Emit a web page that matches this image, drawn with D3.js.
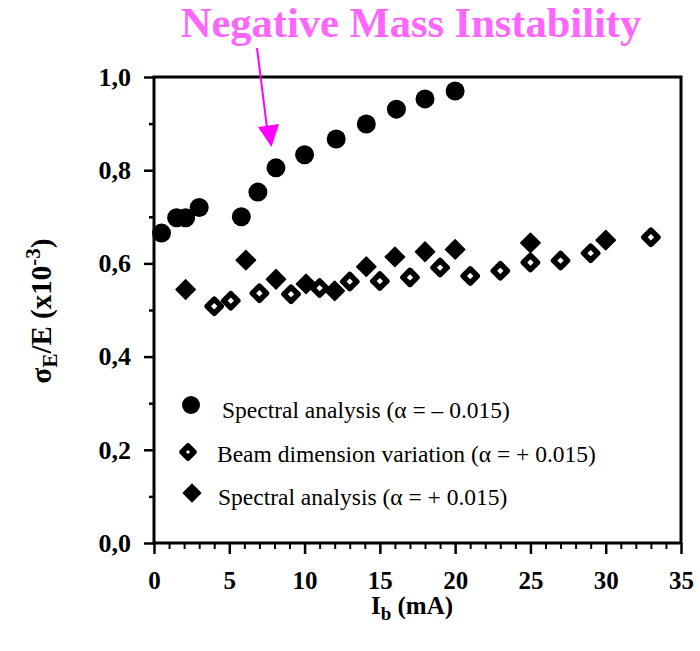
<!DOCTYPE html>
<html><head><meta charset="utf-8">
<script src="https://cdn.jsdelivr.net/npm/d3@7"></script>
<style>body{margin:0;background:#fff}svg{display:block}</style>
</head><body>
<svg id="c" width="700" height="651"></svg>
<script>
// Data
const spectralNegX = [0.5, 1.5, 2.1, 3, 5.8, 6.9, 8.1, 10, 12.1, 14.1, 16.1, 18, 20];
const spectralNegY = [0.665, 0.698, 0.698, 0.720, 0.700, 0.753, 0.805, 0.833, 0.867, 0.899, 0.931, 0.953, 0.970];
const beamX = [4, 5.1, 7, 9.1, 11, 13, 15, 17, 19, 21, 23, 25, 27, 29, 33];
const beamY = [0.508, 0.520, 0.536, 0.534, 0.547, 0.561, 0.562, 0.570, 0.591, 0.573, 0.584, 0.602, 0.606, 0.622, 0.656];
const spectralPosX = [2.1, 6.1, 8.1, 10.1, 12, 14.1, 16, 18, 20, 25, 30];
const spectralPosY = [0.544, 0.607, 0.566, 0.556, 0.541, 0.593, 0.614, 0.625, 0.630, 0.644, 0.650];
const xTicks = [0, 5, 10, 15, 20, 25, 30, 35];
const yTicks = [0, 0.2, 0.4, 0.6, 0.8, 1.0];
const legendLabels = ["Spectral analysis (\u03b1 = \u2013 0.015)", "Beam dimension variation (\u03b1 = + 0.015)", "Spectral analysis (\u03b1 = + 0.015)"];
const title = "Negative Mass Instability";

const svg = d3.select("#c");
const L = 154, R = 681, T = 77, B = 543;
const x = d3.scaleLinear().domain([0, 35]).range([L, R]);
const y = d3.scaleLinear().domain([0, 1]).range([B, T]);
const serif = "'Liberation Serif', 'Times New Roman', 'DejaVu Serif', serif";

// frame
svg.append("rect").attr("x", L).attr("y", T).attr("width", R - L).attr("height", B - T)
  .attr("fill", "none").attr("stroke", "#000").attr("stroke-width", 3);

// y axis minor
svg.append("g").attr("transform", `translate(${L},0)`)
  .call(d3.axisLeft(y).tickValues(d3.range(0.1, 1.0, 0.2)).tickSize(5).tickFormat(""))
  .call(g => g.select(".domain").remove())
  .call(g => g.selectAll("line").attr("stroke-width", 2.5));
// y axis major
svg.append("g").attr("transform", `translate(${L},0)`)
  .call(d3.axisLeft(y).tickValues(yTicks).tickSize(10).tickPadding(13).tickFormat(d => d3.format(".1f")(d).replace(".", ",")))
  .call(g => g.select(".domain").remove())
  .call(g => g.selectAll("line").attr("stroke-width", 2.5))
  .call(g => g.selectAll("text").attr("font-family", serif).attr("font-weight", "bold").attr("font-size", 26).attr("fill", "#000"));

// x axis minor
svg.append("g").attr("transform", `translate(0,${B})`)
  .call(d3.axisBottom(x).tickValues(d3.range(0, 36, 1).filter(v => v % 5 !== 0)).tickSize(6).tickFormat(""))
  .call(g => g.select(".domain").remove())
  .call(g => g.selectAll("line").attr("stroke-width", 2));
// x axis major
svg.append("g").attr("transform", `translate(0,${B})`)
  .call(d3.axisBottom(x).tickValues(xTicks).tickSize(11).tickPadding(17))
  .call(g => g.select(".domain").remove())
  .call(g => g.selectAll("line").attr("stroke-width", 2.5))
  .call(g => g.selectAll("text").attr("font-family", serif).attr("font-weight", "bold").attr("font-size", 25).attr("fill", "#000"));

// axis labels
const xl = svg.append("text").attr("x", 412).attr("y", 614).attr("text-anchor", "middle")
  .attr("font-family", serif).attr("font-weight", "bold").attr("font-size", 25);
xl.append("tspan").text("I");
xl.append("tspan").attr("dy", 6).attr("font-size", 19).text("b");
xl.append("tspan").attr("dy", -6).text(" (mA)");

const yl = svg.append("text").attr("transform", "translate(51,311) rotate(-90)").attr("text-anchor", "middle")
  .attr("font-family", serif).attr("font-weight", "bold").attr("font-size", 29);
yl.append("tspan").text("\u03c3");
yl.append("tspan").attr("dy", 6).attr("font-size", 21).text("E");
yl.append("tspan").attr("dy", -6).text("/E (x10");
yl.append("tspan").attr("dy", -11).attr("font-size", 21).text("-3");
yl.append("tspan").attr("dy", 11).text(")");

// markers
const filledDiamond = d3.symbol().type(d3.symbolSquare).size(185);
const openDiamond = d3.symbol().type(d3.symbolSquare).size(100);

svg.append("g").selectAll("path").data(beamX.map((v, i) => [v, beamY[i]])).join("path")
  .attr("d", openDiamond).attr("transform", d => `translate(${x(d[0])},${y(d[1])}) rotate(45)`)
  .attr("fill", "#fff").attr("stroke", "#000").attr("stroke-width", 5.5).attr("stroke-linejoin", "round");

svg.append("g").selectAll("path").data(spectralPosX.map((v, i) => [v, spectralPosY[i]])).join("path")
  .attr("d", filledDiamond).attr("transform", d => `translate(${x(d[0])},${y(d[1])}) rotate(45)`)
  .attr("fill", "#000").attr("stroke", "#000").attr("stroke-width", 1.5).attr("stroke-linejoin", "round");

svg.append("g").selectAll("circle").data(spectralNegX.map((v, i) => [v, spectralNegY[i]])).join("circle")
  .attr("cx", d => x(d[0])).attr("cy", d => y(d[1])).attr("r", 9.5).attr("fill", "#000");

// legend
const lg = svg.append("g");
const lgMY = [405, 452, 493];
lg.append("circle").attr("cx", 191).attr("cy", lgMY[0]).attr("r", 9).attr("fill", "#000");
lg.append("path").attr("d", d3.symbol().type(d3.symbolSquare).size(72)).attr("transform", `translate(188,${lgMY[1]}) rotate(45)`)
  .attr("fill", "#fff").attr("stroke", "#000").attr("stroke-width", 5.5).attr("stroke-linejoin", "round");
lg.append("path").attr("d", d3.symbol().type(d3.symbolSquare).size(150)).attr("transform", `translate(192,${lgMY[2]}) rotate(45)`)
  .attr("fill", "#000").attr("stroke", "#000").attr("stroke-width", 1.5).attr("stroke-linejoin", "round");
const lgX = [222, 217, 218];
const lgTY = [418, 462, 505];
lg.selectAll("text").data(legendLabels).join("text")
  .attr("x", (d, i) => lgX[i]).attr("y", (d, i) => lgTY[i])
  .attr("font-family", serif).attr("font-size", 23.5).attr("fill", "#000").text(d => d);

// title and arrow
svg.append("text").attr("x", 411).attr("y", 37).attr("text-anchor", "middle")
  .attr("font-family", serif).attr("font-weight", "bold").attr("font-size", 42.5)
  .attr("fill", "#ff66ff").text(title);
svg.append("line").attr("x1", 257).attr("y1", 48).attr("x2", 267).attr("y2", 128)
  .attr("stroke", "#ff00ff").attr("stroke-width", 2);
svg.append("path").attr("d", "M258,127 L279,124 L271.5,147 Z").attr("fill", "#ff00ff");
</script>
</body></html>
